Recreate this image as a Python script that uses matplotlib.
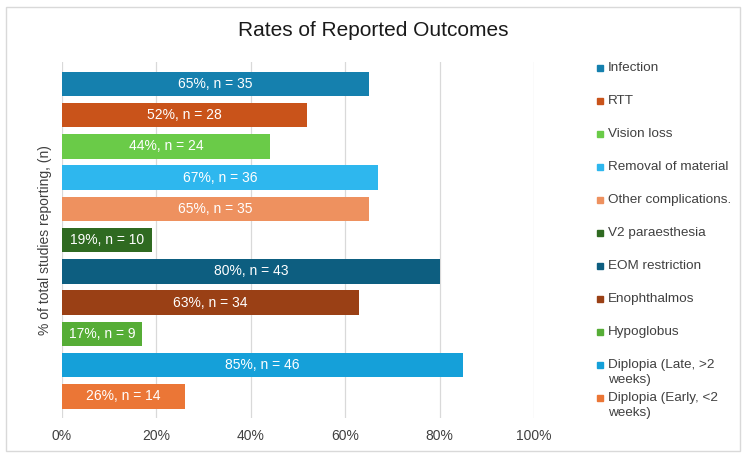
import matplotlib.pyplot as plt
from matplotlib.patches import Rectangle

# --- data (top to bottom) ---
outcomes = ["Infection", "RTT", "Vision loss", "Removal of material",
            "Other complications.", "V2 paraesthesia", "EOM restriction",
            "Enophthalmos", "Hypoglobus", "Diplopia (Late, >2\nweeks)",
            "Diplopia (Early, <2\nweeks)"]
pct = [65, 52, 44, 67, 65, 19, 80, 63, 17, 85, 26]
n_studies = [35, 28, 24, 36, 35, 10, 43, 34, 9, 46, 14]
colors = ["#1580AE", "#C9531A", "#6ACB48", "#2EB7EE", "#EE915F", "#2F6A21",
          "#0D5E80", "#9A4015", "#56AD36", "#15A0D9", "#EB7636"]

plt.rcParams.update({
    "font.family": ["Liberation Sans", "DejaVu Sans"],
    "font.size": 9.5,
    "text.color": "#404040",
})

W, H = 747, 458
fig = plt.figure(figsize=(W / 100, H / 100), dpi=100)
ax = fig.add_axes([62 / W, 1 - 418 / H, (534 - 62) / W, (418 - 62) / H])

ypos = list(range(len(outcomes)))
ax.barh(ypos, pct, height=0.78, color=colors, edgecolor="none", zorder=2)

for y, p, n in zip(ypos, pct, n_studies):
    ax.text(p / 2, y, f"{p}%, n = {n}", ha="center", va="center",
            color="white", fontsize=10, zorder=3)

ax.set_xlim(0, 100)
ax.set_ylim(10.69, -0.70)
ax.set_xticks([0, 20, 40, 60, 80, 100])
ax.set_xticklabels([f"{v}%" for v in [0, 20, 40, 60, 80, 100]],
                   fontsize=10, color="#404040")
ax.set_yticks([])
ax.tick_params(axis="x", length=0, pad=8)
ax.grid(axis="x", color="#D9D9D9", linewidth=0.9, zorder=0)
for s in ax.spines.values():
    s.set_visible(False)

ax.set_ylabel("% of total studies reporting, (n)", fontsize=10,
              color="#404040", labelpad=7)

fig.text(373 / W, 1 - 31 / H, "Rates of Reported Outcomes", ha="center",
         va="center", fontsize=15, color="#1A1A1A")

# legend, drawn by hand so entries keep Excel's even spacing
for i, (lab, col) in enumerate(zip(outcomes, colors)):
    yc = 68 + 33 * i
    fig.patches.append(Rectangle((597 / W, 1 - (yc + 3) / H), 6 / W, 6 / H,
                                 transform=fig.transFigure, color=col))
    fig.text(608 / W, 1 - (yc - 6) / H, lab, ha="left", va="top",
             fontsize=9.7, color="#404040", linespacing=1.3)

# chart border
fig.patches.append(Rectangle((6 / W, 1 - 451 / H), 734 / W, 444 / H,
                             transform=fig.transFigure, fill=False,
                             edgecolor="#D9D9D9", linewidth=1))

fig.savefig("out.png", dpi=100, facecolor="white")
